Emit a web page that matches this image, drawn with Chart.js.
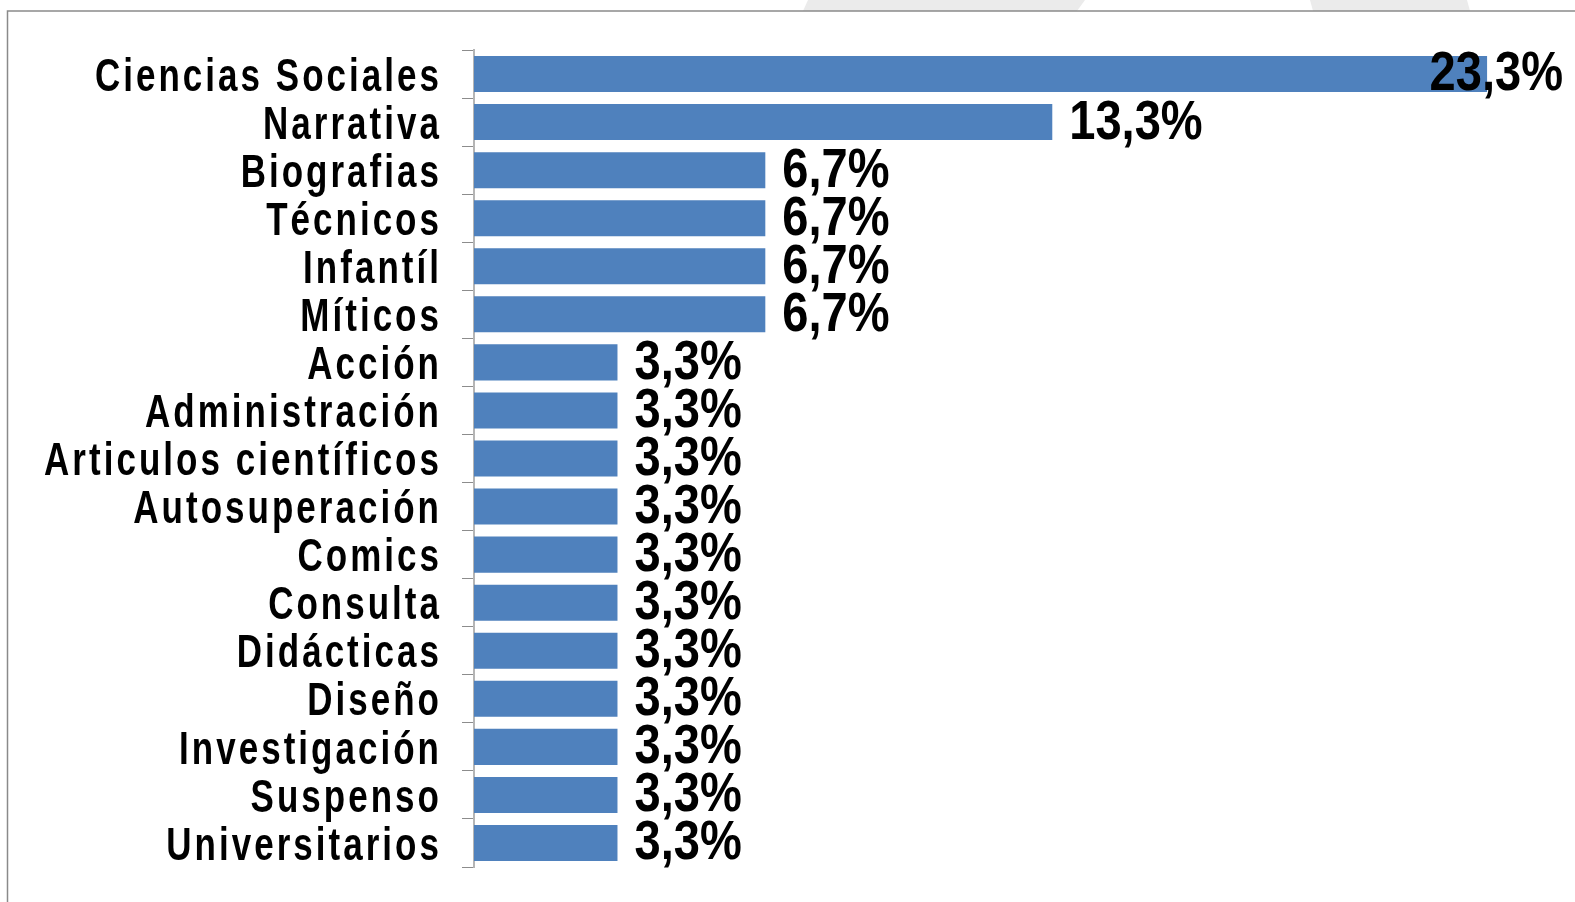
<!DOCTYPE html>
<html>
<head>
<meta charset="utf-8">
<script src="https://cdn.jsdelivr.net/npm/chart.js@4"></script>
<style>
  html, body { margin: 0; padding: 0; background: #fff; }
  #wrap { width: 1575px; height: 902px; }
</style>
</head>
<body>
<div id="wrap"><canvas id="generosChart" width="1575" height="902"></canvas></div>
<script>
const categorias = ['Ciencias Sociales', 'Narrativa', 'Biografias', 'Técnicos', 'Infantíl', 'Míticos',
  'Acción', 'Administración', 'Articulos científicos', 'Autosuperación', 'Comics', 'Consulta',
  'Didácticas', 'Diseño', 'Investigación', 'Suspenso', 'Universitarios'];
const porcentajes = [23.3, 13.3, 6.7, 6.7, 6.7, 6.7, 3.3, 3.3, 3.3, 3.3, 3.3, 3.3, 3.3, 3.3, 3.3, 3.3, 3.3];

const fuente = '"Liberation Sans", Arial, sans-serif';
const estrechoEtiq = 0.76;   // letra estrecha tipo Calibri
const estrechoValor = 0.84;

// marco y formas grises del fondo
const fondo = {
  id: 'fondo',
  beforeDraw(chart){
    const ctx = chart.ctx;
    ctx.save();
    ctx.fillStyle = '#fff';
    ctx.fillRect(0, 0, chart.width, chart.height);
    ctx.fillStyle = '#ebebeb';
    ctx.beginPath();
    ctx.moveTo(808, 0); ctx.lineTo(1085, 0); ctx.lineTo(1077, 11); ctx.lineTo(803, 11); ctx.closePath();
    ctx.fill();
    ctx.beginPath();
    ctx.moveTo(1310, 0); ctx.lineTo(1467, 0); ctx.lineTo(1470, 11); ctx.lineTo(1313, 11); ctx.closePath();
    ctx.fill();
    ctx.strokeStyle = '#8a8a8a';
    ctx.lineWidth = 1.5;
    ctx.beginPath();
    ctx.moveTo(7.5, chart.height); ctx.lineTo(7.5, 11); ctx.lineTo(chart.width, 11);
    ctx.stroke();
    ctx.restore();
  }
};

// las etiquetas del eje Y se dibujan estrechas y espaciadas
const ejeEstrecho = {
  id: 'ejeEstrecho',
  beforeDraw(chart){
    const s = chart.scales.y;
    if (s._estrecho) return;
    s._estrecho = true;
    const orig = s.drawLabels.bind(s);
    s._computeLabelArea = () => null;
    s.drawLabels = function(area){
      const ctx = this.ctx;
      const xr = this.right - this.options.grid.tickLength - this.options.ticks.padding;
      ctx.save();
      ctx.letterSpacing = '4px';
      ctx.translate(xr * (1 - estrechoEtiq), 4);
      ctx.scale(estrechoEtiq, 1);
      orig(area);
      ctx.restore();
    };
  }
};

// etiquetas de valor al final de cada barra
const etiquetasValor = {
  id: 'etiquetasValor',
  afterDatasetsDraw(chart){
    const ctx = chart.ctx;
    const meta = chart.getDatasetMeta(0);
    ctx.save();
    ctx.font = 'bold 56px ' + fuente;
    ctx.fillStyle = '#000';
    ctx.textBaseline = 'middle';
    ctx.textAlign = 'left';
    meta.data.forEach((bar, i) => {
      const txt = porcentajes[i].toFixed(1).replace('.', ',') + '%';
      const w = ctx.measureText(txt).width * estrechoValor;
      let x = bar.x + 17;
      if (x + w > 1563) x = 1563 - w;
      ctx.save();
      ctx.translate(x, bar.y + 1);
      ctx.scale(estrechoValor, 1);
      ctx.fillText(txt, 0, 0);
      ctx.restore();
    });
    ctx.restore();
  }
};

new Chart(document.getElementById('generosChart'), {
  type: 'bar',
  data: {
    labels: categorias,
    datasets: [{
      data: porcentajes,
      backgroundColor: '#4f81bd',
      barPercentage: 0.75,
      categoryPercentage: 1
    }]
  },
  options: {
    indexAxis: 'y',
    responsive: false,
    animation: false,
    layout: { padding: { left: 0, right: 14, top: 50, bottom: 35 } },
    plugins: { legend: { display: false }, tooltip: { enabled: false } },
    scales: {
      x: { display: false, min: 0, max: 25 },
      y: {
        afterFit(scale){
          scale.width = 474;
          scale.paddingTop = 0;
          scale.paddingBottom = 0;
        },
        border: { display: true, color: '#b5b5b5', width: 2 },
        grid: { drawOnChartArea: false, drawTicks: true, tickLength: 12, color: '#8c8c8c', offset: true },
        ticks: {
          autoSkip: false,
          color: '#000',
          padding: 20,
          font: { family: fuente, size: 46, weight: 'bold' }
        }
      }
    }
  },
  plugins: [fondo, ejeEstrecho, etiquetasValor]
});
</script>
</body>
</html>
